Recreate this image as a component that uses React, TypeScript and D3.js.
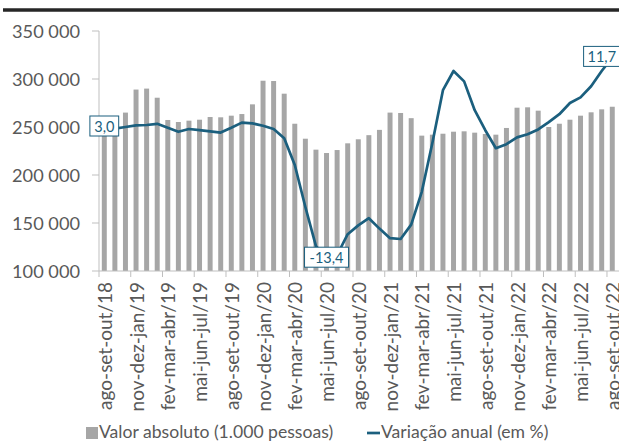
import React from 'react';
import * as d3 from 'd3';

// categorias (trimestres móveis)
const categories = [
  'ago-set-out/18', 'set-out-nov/18', 'out-nov-dez/18',
  'nov-dez-jan/19', 'dez-jan-fev/19', 'jan-fev-mar/19',
  'fev-mar-abr/19', 'mar-abr-mai/19', 'abr-mai-jun/19',
  'mai-jun-jul/19', 'jun-jul-ago/19', 'jul-ago-set/19',
  'ago-set-out/19', 'set-out-nov/19', 'out-nov-dez/19',
  'nov-dez-jan/20', 'dez-jan-fev/20', 'jan-fev-mar/20',
  'fev-mar-abr/20', 'mar-abr-mai/20', 'abr-mai-jun/20',
  'mai-jun-jul/20', 'jun-jul-ago/20', 'jul-ago-set/20',
  'ago-set-out/20', 'set-out-nov/20', 'out-nov-dez/20',
  'nov-dez-jan/21', 'dez-jan-fev/21', 'jan-fev-mar/21',
  'fev-mar-abr/21', 'mar-abr-mai/21', 'abr-mai-jun/21',
  'mai-jun-jul/21', 'jun-jul-ago/21', 'jul-ago-set/21',
  'ago-set-out/21', 'set-out-nov/21', 'out-nov-dez/21',
  'nov-dez-jan/22', 'dez-jan-fev/22', 'jan-fev-mar/22',
  'fev-mar-abr/22', 'mar-abr-mai/22', 'abr-mai-jun/22',
  'mai-jun-jul/22', 'jun-jul-ago/22', 'jul-ago-set/22',
  'ago-set-out/22'
];

// Valor absoluto (1.000 pessoas)
const valorAbsoluto = [
  248000, 254000, 265000, 289000, 290000, 280500, 257300, 255200, 256600,
  257600, 260400, 260100, 261800, 263500, 273600, 298200, 297900, 284700,
  253400, 237800, 226400, 222900, 226000, 233000, 237200, 241500, 247000,
  265000, 264600, 259200, 241000, 242000, 243000, 245100, 245500, 244100,
  242700, 242000, 249000, 270100, 270500, 267000, 250000, 253400, 257600,
  261800, 265300, 268400, 271100
];

// Variação anual (em %)
const variacaoAnual = [
  3.0, 2.8, 3.0, 3.2, 3.25, 3.4, 2.9, 2.4, 2.75,
  2.6, 2.45, 2.3, 2.9, 3.55, 3.45, 3.15, 2.75, 1.6,
  -1.75, -7.0, -11.9, -13.4, -13.0, -10.4, -9.3, -8.4, -9.7,
  -10.9, -11.0, -9.2, -5.1, 1.0, 7.6, 10.0, 8.7, 5.1,
  2.6, 0.35, 0.85, 1.7, 2.1, 2.7, 3.6, 4.6, 6.0,
  6.7, 8.1, 10.0, 11.7
];

// rótulos de dados visíveis (índices)
const labelIdx = [0, 21, 48];

const yTicks = [100000, 150000, 200000, 250000, 300000, 350000];

const W = 619;
const H = 442;
const left = 99;
const top = 31;
const bottom = 271;
const step = 10.583;

const barColor = '#a6a6a6';
const lineColor = '#1b5f7e';
const textColor = '#595959';
const axisColor = '#bfbfbf';
const font = "Lato, 'Liberation Sans', sans-serif";

const fmt = (v: number) => d3.format(',')(v).replace(/,/g, ' ');
const fmtPct = (v: number) => v.toFixed(1).replace('.', ',');

export default function App() {
  const x = d3.scaleBand<string>()
    .domain(categories)
    .range([left, left + categories.length * step])
    .padding(0);
  const bw = x.bandwidth();
  const y = d3.scaleLinear().domain([100000, 350000]).range([bottom, top]);
  const y2 = d3.scaleLinear().domain([-15, 15]).range([bottom, top]);

  const cx = (i: number) => (x(categories[i]) as number) + bw / 2;
  const line = d3.line<number>()
    .x((d, i) => cx(i))
    .y(d => y2(d));

  return (
    <div style={{ position: 'absolute', left: 0, top: 0 }}>
      <svg width={W} height={H} style={{ display: 'block', background: '#fff' }}>
        {/* barra superior */}
        <line x1={3} x2={W} y1={10} y2={10} stroke="#262626" strokeWidth={3.5} />

        {/* eixo y */}
        <line x1={left} x2={left} y1={top} y2={bottom} stroke={axisColor} />
        {yTicks.map(t => (
          <g key={t}>
            <line x1={left - 7} x2={left} y1={y(t)} y2={y(t)} stroke={axisColor} />
            <text x={80} y={y(t)} textAnchor="end" dominantBaseline="central"
              fontFamily={font} fontSize={18.2} fill={textColor}>{fmt(t)}</text>
          </g>
        ))}

        {/* barras */}
        {valorAbsoluto.map((v, i) => (
          <rect key={i}
            x={cx(i) - bw * 0.235}
            width={bw * 0.47}
            y={y(v)}
            height={bottom - y(v)}
            fill={barColor} />
        ))}

        {/* eixo x */}
        <line x1={left} x2={W} y1={bottom} y2={bottom} stroke={axisColor} />
        {categories.map((c, i) => i % 3 === 0 ? (
          <g key={c}>
            <line x1={x(c) as number} x2={x(c) as number} y1={bottom} y2={bottom + 6} stroke={axisColor} />
            <text transform={`translate(${cx(i)},${bottom + 11}) rotate(-90)`}
              textAnchor="end" dominantBaseline="central"
              fontFamily={font} fontSize={19} fill={textColor}>{c}</text>
          </g>
        ) : null)}

        {/* linha */}
        <path d={line(variacaoAnual) as string} fill="none" stroke={lineColor}
          strokeWidth={2.7} strokeLinejoin="round" />

        {/* rótulos */}
        {labelIdx.map(i => {
          const txt = fmtPct(variacaoAnual[i]);
          const w = txt.length * 7.6 + 6;
          let bx = cx(i) - w / 2;
          if (bx + w > W + 1) bx = W + 1 - w;
          const by = y2(variacaoAnual[i]) - 11;
          return (
            <g key={i}>
              <rect x={bx} y={by} width={w} height={20} fill="#fff" stroke={lineColor} strokeWidth={1} />
              <text x={bx + w / 2} y={by + 10} textAnchor="middle" dominantBaseline="central"
                fontFamily={font} fontSize={14.5} fill={lineColor}>{txt}</text>
            </g>
          );
        })}

        {/* legenda */}
        <rect x={86} y={427} width={12} height={12} fill={barColor} />
        <text x={99} y={438} fontFamily={font} fontSize={17.6} fill={textColor}>
          Valor absoluto (1.000 pessoas)
        </text>
        <line x1={367} x2={380} y1={433} y2={433} stroke={lineColor} strokeWidth={2.7} />
        <text x={381} y={438} fontFamily={font} fontSize={17.6} fill={textColor}>
          Variação anual (em %)
        </text>
      </svg>
    </div>
  );
}
